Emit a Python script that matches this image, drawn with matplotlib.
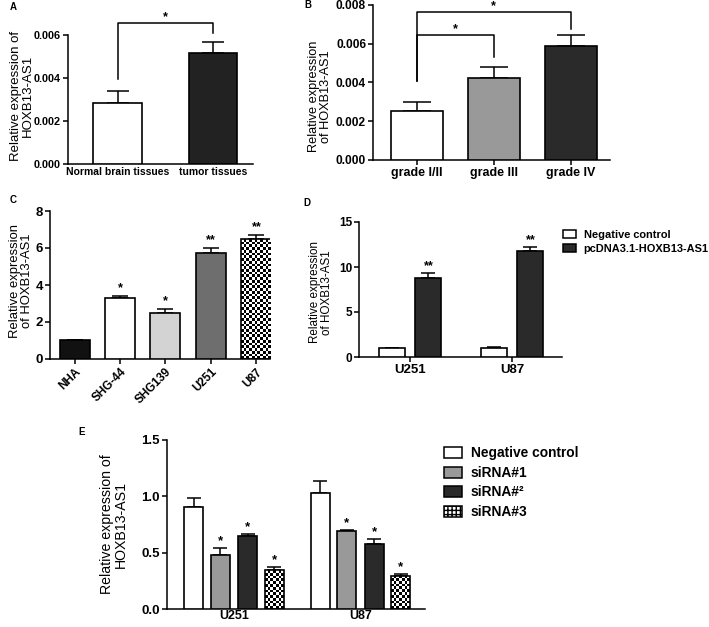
import numpy as np
import matplotlib
matplotlib.use("Agg")
import matplotlib.pyplot as plt
from matplotlib.patches import Patch

plt.rcParams['font.family'] = ['Liberation Sans', 'DejaVu Sans']
plt.rcParams['font.weight'] = 'bold'
plt.rcParams['axes.linewidth'] = 1.1

# ---- data ----
a_cats = ['Normal brain tissues', 'tumor tissues']
a_vals = [0.00285, 0.00516]
a_errs = [0.00055, 0.00052]

b_cats = ['grade I/II', 'grade III', 'grade IV']
b_vals = [0.00253, 0.00423, 0.00588]
b_errs = [0.00045, 0.00055, 0.00055]

c_cats = ['NHA', 'SHG-44', 'SHG139', 'U251', 'U87']
c_vals = [1.0, 3.3, 2.5, 5.73, 6.48]
c_errs = [0.03, 0.12, 0.22, 0.25, 0.2]
c_stars = ['', '*', '*', '**', '**']

d_groups = ['U251', 'U87']
d_series = ['Negative control', 'pcDNA3.1-HOXB13-AS1']
d_vals = [[1.0, 1.05], [8.78, 11.8]]
d_errs = [[0.05, 0.08], [0.5, 0.45]]
d_stars = [['', ''], ['**', '**']]

e_groups = ['U251', 'U87']
e_series = ['Negative control', 'siRNA#1', 'siRNA#²', 'siRNA#3']
e_vals = [[0.905, 1.03], [0.48, 0.69], [0.65, 0.58], [0.346, 0.295]]
e_errs = [[0.08, 0.105], [0.06, 0.012], [0.015, 0.04], [0.025, 0.015]]
e_stars = [['', ''], ['*', '*'], ['*', '*'], ['*', '*']]

W, H = 709, 627
fig = plt.figure(figsize=(W / 100, H / 100), dpi=100)


def axes_px(left, right, top, bottom):
    return fig.add_axes([left / W, 1 - bottom / H, (right - left) / W, (bottom - top) / H])


def style(ax, xticks=True):
    ax.spines['top'].set_visible(False)
    ax.spines['right'].set_visible(False)
    ax.tick_params(direction='out', width=1.1, length=3.5, pad=1.5)
    if not xticks:
        ax.tick_params(axis='x', length=0)


def checker_fill(ax, bar, cell=2.7):
    fig.canvas.draw()
    bb = bar.get_window_extent()
    nx = max(1, int(round(bb.width / cell)))
    ny = max(1, int(round(bb.height / cell)))
    img = (np.indices((ny, nx)).sum(axis=0) % 2).astype(float)
    x0, y0 = bar.get_xy()
    xl, yl = ax.get_xlim(), ax.get_ylim()
    im = ax.imshow(img, extent=(x0, x0 + bar.get_width(), y0, y0 + bar.get_height()),
                   aspect='auto', interpolation='nearest', cmap='gray', vmin=0, vmax=1,
                   origin='lower', zorder=2)
    im.set_clip_path(bar)
    ax.set_xlim(xl)
    ax.set_ylim(yl)


def draw_bars(ax, x, vals, errs, colors, width, capsize, lw=1.2):
    bars = ax.bar(x, vals, width, color=colors, edgecolor='black', linewidth=lw, zorder=3)
    ax.errorbar(x, vals, yerr=[np.zeros(len(vals)), errs], fmt='none', ecolor='black',
                elinewidth=1.1, capsize=capsize, capthick=1.1, zorder=2)
    return bars


def checker_bar(ax, bar):
    bar.set_facecolor('none')
    checker_fill(ax, bar)


def bracket(ax, x1, x2, y1, y2, top, star, fs=9):
    ax.plot([x1, x1, x2, x2], [y1, top, top, y2], color='black', lw=1.1, clip_on=False)
    ax.text((x1 + x2) / 2, top, star, ha='center', va='bottom', fontsize=fs)


# ---- Panel A ----
axA = axes_px(68, 253, 35, 164)
xA = np.arange(len(a_cats))
draw_bars(axA, xA, a_vals, a_errs, ['white', '#222222'], 0.51, 8)
axA.set_xlim(-0.52, 1.42)
axA.set_ylim(0, 0.006)
axA.set_yticks([0, 0.002, 0.004, 0.006])
axA.set_yticklabels(['0.000', '0.002', '0.004', '0.006'], fontsize=7.8)
axA.set_xticks(xA)
axA.set_xticklabels(a_cats, fontsize=7.5)
style(axA, xticks=False)
axA.tick_params(axis='x', pad=2)
axA.set_ylabel('Relative expression of\nHOXB13-AS1', fontsize=9.5, linespacing=1.0)
axA.yaxis.set_label_coords(-0.185, 0.53)
bracket(axA, 0, 1, 0.00395, 0.0061, 0.00656, '*')

# ---- Panel B ----
axB = axes_px(373, 610, 5, 160)
xB = np.arange(len(b_cats))
draw_bars(axB, xB, b_vals, b_errs, ['white', '#999999', '#2a2a2a'], 0.675, 10)
axB.set_xlim(-0.57, 2.51)
axB.set_ylim(0, 0.008)
axB.set_yticks([0, 0.002, 0.004, 0.006, 0.008])
axB.set_yticklabels(['0.000', '0.002', '0.004', '0.006', '0.008'], fontsize=8.6)
axB.set_xticks(xB)
axB.set_xticklabels(b_cats, fontsize=9)
style(axB)
axB.set_ylabel('Relative expression\nof HOXB13-AS1', fontsize=9.2, linespacing=1.0)
axB.yaxis.set_label_coords(-0.175, 0.41)
bracket(axB, 0, 2, 0.00408, 0.00676, 0.00764, '*')
bracket(axB, 0, 1, 0.00408, 0.00532, 0.00645, '*')

# ---- Panel C ----
axC = axes_px(50, 270, 211, 359)
xC = np.arange(len(c_cats))
barsC = draw_bars(axC, xC, c_vals, c_errs,
                  ['#111111', 'white', '#d3d3d3', '#6e6e6e', 'white'], 0.66, 6)
axC.set_xlim(-0.54, 4.30)
axC.set_ylim(0, 8)
axC.set_yticks([0, 2, 4, 6, 8])
axC.set_yticklabels(['0', '2', '4', '6', '8'], fontsize=9.5)
axC.set_xticks(xC)
axC.set_xticklabels(c_cats, fontsize=8.5, rotation=45, ha='right', rotation_mode='anchor')
style(axC)
axC.set_ylabel('Relative expression\nof HOXB13-AS1', fontsize=9.4, linespacing=1.0)
axC.yaxis.set_label_coords(-0.075, 0.53)
for xi, v, e, s in zip(xC, c_vals, c_errs, c_stars):
    if s:
        axC.text(xi, v + e + 0.1, s, ha='center', va='bottom', fontsize=9)
checker_bar(axC, barsC[4])

# ---- Panel D ----
axD = axes_px(359, 562, 222, 357)
xD = np.arange(len(d_groups))
d_colors = ['white', '#2a2a2a']
d_offsets = [-0.18, 0.18]
for k in range(len(d_series)):
    draw_bars(axD, xD + d_offsets[k], d_vals[k], d_errs[k], d_colors[k], 0.255, 4.7)
    for xi, v, e, s in zip(xD + d_offsets[k], d_vals[k], d_errs[k], d_stars[k]):
        if s:
            axD.text(xi, v + e + 0.1, s, ha='center', va='bottom', fontsize=9)
axD.set_xlim(-0.5, 1.49)
axD.set_ylim(0, 15)
axD.set_yticks([0, 5, 10, 15])
axD.set_yticklabels(['0', '5', '10', '15'], fontsize=8.5)
axD.set_xticks(xD)
axD.set_xticklabels(d_groups, fontsize=9.5)
style(axD)
axD.set_ylabel('Relative expression\nof HOXB13-AS1', fontsize=8.4, linespacing=1.0)
axD.yaxis.set_label_coords(-0.128, 0.48)
d_handles = [Patch(facecolor=c, edgecolor='black', linewidth=1.1) for c in d_colors]
fig.legend(d_handles, d_series, loc='upper left', bbox_to_anchor=(555 / W, 1 - 222 / H),
           frameon=False, fontsize=7.9, handlelength=1.2, handleheight=0.8,
           handletextpad=0.7, labelspacing=0.35, borderaxespad=0.3)

# ---- Panel E ----
axE = axes_px(167, 425, 440, 609)
xE = np.arange(len(e_groups))
e_colors = ['white', '#999999', '#2a2a2a', 'white']
e_offsets = [-0.32, -0.107, 0.107, 0.32]
e_bars = []
for k in range(len(e_series)):
    bs = draw_bars(axE, xE + e_offsets[k], e_vals[k], e_errs[k], e_colors[k], 0.15, 4.7)
    e_bars.append(bs)
    for xi, v, e, s in zip(xE + e_offsets[k], e_vals[k], e_errs[k], e_stars[k]):
        if s:
            axE.text(xi, v + e + 0.005, s, ha='center', va='bottom', fontsize=9.5)
axE.set_xlim(-0.53, 1.51)
axE.set_ylim(0, 1.5)
axE.set_yticks([0, 0.5, 1.0, 1.5])
axE.set_yticklabels(['0.0', '0.5', '1.0', '1.5'], fontsize=9.5)
axE.set_xticks(xE)
axE.set_xticklabels(e_groups, fontsize=9)
style(axE, xticks=False)
axE.tick_params(axis='x', pad=1)
axE.set_ylabel('Relative expression of\nHOXB13-AS1', fontsize=10.2, linespacing=1.0)
axE.yaxis.set_label_coords(-0.151, 0.5)
for b in e_bars[3]:
    checker_bar(axE, b)
e_handles = [Patch(facecolor=c, edgecolor='black', linewidth=1.1) for c in e_colors[:3]]
e_handles.append(Patch(facecolor='white', edgecolor='black', hatch='++++', linewidth=1.1))
fig.legend(e_handles, e_series, loc='upper left', bbox_to_anchor=(432 / W, 1 - 434 / H),
           frameon=False, fontsize=9.9, handlelength=1.3, handleheight=0.85,
           handletextpad=0.6, labelspacing=0.4)

# panel letters
for letter, px, py in [('A', 13, 7), ('B', 308, 5), ('C', 13, 200), ('D', 307, 203), ('E', 82, 432)]:
    fig.text(px / W, 1 - py / H, letter, fontsize=7, ha='center', va='center')

fig.savefig('out.png', dpi=100)
